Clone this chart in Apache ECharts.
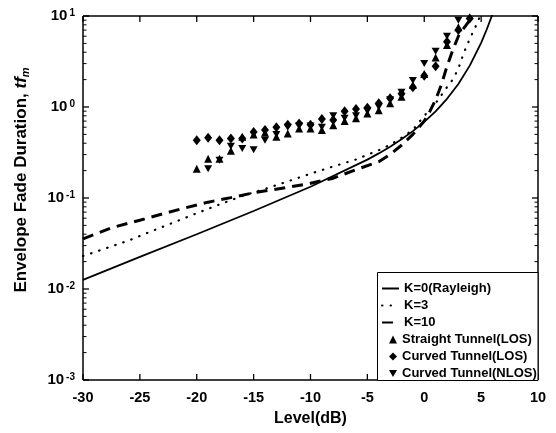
<!DOCTYPE html>
<html><head><meta charset="utf-8">
<script src="https://cdn.jsdelivr.net/npm/echarts@6/dist/echarts.min.js"></script>
<style>html,body{margin:0;padding:0;background:#fff}#c{width:556px;height:433px}</style>
</head><body><div id="c"></div>
<script>
// ---- data ----
const levelsK0 = [-30, -25, -20, -15, -10, -5, -4, -3, -2, -1, 0, 1, 2, 3, 4, 5, 5.5, 6];
const valuesK0 = [0.0126, 0.0225, 0.040, 0.072, 0.133, 0.264, 0.309, 0.366, 0.442, 0.543, 0.686, 0.897, 1.23, 1.79, 2.85, 5.07, 7.15, 10.5];

const levelsK3 = [-30, -28, -26, -24, -22, -20, -18, -16, -14, -12, -10, -8, -6, -4, -3, -2, -1, 0, 1, 2, 2.5, 3, 3.5, 4, 4.5, 5];
const valuesK3 = [0.023, 0.028, 0.034, 0.043, 0.054, 0.068, 0.085, 0.105, 0.126, 0.152, 0.185, 0.222, 0.265, 0.335, 0.385, 0.46, 0.56, 0.80, 1.1, 1.65, 2.0, 2.65, 4.0, 5.6, 7.6, 10.6];

const levelsK10 = [-30, -27.5, -25, -23, -21, -19, -17, -15, -12, -10, -8, -6, -4, -3, -2, -1, 0, 0.5, 1, 1.5, 2, 2.5, 3, 3.5, 4, 4.3];
const valuesK10 = [0.0355, 0.047, 0.057, 0.067, 0.078, 0.09, 0.101, 0.114, 0.131, 0.145, 0.165, 0.205, 0.25, 0.30, 0.38, 0.5, 0.70, 0.9, 1.2, 1.75, 2.8, 4.2, 6.0, 7.4, 9.0, 10.2];

const levelsStraightLOS = [-20, -19, -18, -17, -16, -15, -14, -13, -12, -11, -10, -9, -8, -7, -6, -5, -4, -3, -2, -1, 0, 1, 2, 3];
const valuesStraightLOS = [0.21, 0.27, 0.27, 0.33, 0.47, 0.50, 0.52, 0.47, 0.51, 0.58, 0.58, 0.56, 0.63, 0.70, 0.75, 0.85, 0.92, 1.10, 1.30, 1.75, 2.3, 3.5, 4.8, 7.5];

const levelsCurvedLOS = [-20, -19, -18, -17, -16, -15, -14, -13, -12, -11, -10, -9, -8, -7, -6, -5, -4, -3, -2, -1, 0, 1, 2, 3, 4];
const valuesCurvedLOS = [0.43, 0.46, 0.43, 0.45, 0.45, 0.53, 0.56, 0.60, 0.64, 0.66, 0.64, 0.74, 0.72, 0.90, 0.95, 0.98, 1.10, 1.25, 1.40, 1.65, 2.2, 2.8, 5.2, 7.0, 9.4];

const levelsCurvedNLOS = [-19, -18, -17, -16, -15, -14, -13, -12, -11, -10, -9, -8, -7, -6, -5, -4, -3, -2, -1, 0, 1, 2, 3];
const valuesCurvedNLOS = [0.21, 0.26, 0.37, 0.35, 0.34, 0.43, 0.50, 0.60, 0.62, 0.62, 0.60, 0.80, 0.75, 0.80, 0.90, 1.0, 1.2, 1.45, 1.95, 3.0, 4.1, 6.0, 9.0];

const lineNames = ['K=0(Rayleigh)', 'K=3', 'K=10'];
const pointNames = ['Straight Tunnel(LOS)', 'Curved Tunnel(LOS)', 'Curved Tunnel(NLOS)'];
const xTicks = {min: -30, max: 10, interval: 5};
const yTicks = {min: 0.001, max: 10};
const decades = [0.001, 0.01, 0.1, 1, 10];
const minorFactors = [2, 3, 4, 5, 6, 7, 8, 9];

// ---- build ----
const zip = (xs, ys) => xs.map((x, i) => [x, ys[i]]);
const yTickItems = [];
decades.forEach(d => {
  yTickItems.push([d, 1]);
  if (d < yTicks.max) minorFactors.forEach(f => yTickItems.push([d * f, 0]));
});
const xTickItems = [];
for (let x = xTicks.min; x <= xTicks.max; x += xTicks.interval) xTickItems.push(x);

const FONT = '"Liberation Sans", Arial, sans-serif';
const downTri = 'path://M0,0 L10,0 L5,9 Z';
const CLEAR = 'rgba(0,0,0,0)';
const SOLID = [1000, 0];

const chart = echarts.init(document.getElementById('c'), null, {renderer: 'canvas'});

const mkLine = () => ({show: true, onZero: false, lineStyle: {color: '#000', width: 1.5, type: SOLID, cap: 'butt'}});
const noTick = () => ({show: false});
const mkLegendText = () => ({color: '#000', fontFamily: FONT, fontWeight: 'bold', fontSize: 13, lineHeight: 15});

chart.setOption({
  animation: false,
  backgroundColor: '#fff',
  grid: {left: 83, right: 18, top: 16, bottom: 53, containLabel: false},
  xAxis: [{
    type: 'value', min: xTicks.min, max: xTicks.max, interval: xTicks.interval,
    position: 'bottom',
    axisLine: mkLine(), axisTick: noTick(),
    axisLabel: {color: '#000', fontFamily: FONT, fontWeight: 'bold', fontSize: 14.5, margin: 10},
    splitLine: {show: false},
    name: 'Level(dB)', nameLocation: 'middle', nameGap: 31,
    nameTextStyle: {color: '#000', fontFamily: FONT, fontWeight: 'bold', fontSize: 16}
  }, {
    type: 'value', min: xTicks.min, max: xTicks.max, interval: xTicks.interval,
    position: 'top',
    axisLine: mkLine(), axisTick: noTick(),
    axisLabel: {show: false},
    splitLine: {show: false}
  }],
  yAxis: [{
    type: 'log', logBase: 10, min: yTicks.min, max: yTicks.max,
    position: 'left',
    axisLine: mkLine(), axisTick: noTick(),
    axisLabel: {
      margin: 8,
      formatter: v => '{b|10}{s|' + Math.round(Math.log10(v)) + '}',
      rich: {
        b: {fontFamily: FONT, fontWeight: 'bold', fontSize: 15, lineHeight: 15, color: '#000', verticalAlign: 'bottom'},
        s: {fontFamily: FONT, fontWeight: 'bold', fontSize: 10, lineHeight: 10, color: '#000', verticalAlign: 'top', padding: [0, 0, 6, 2]}
      }
    },
    splitLine: {show: false}
  }, {
    type: 'log', logBase: 10, min: yTicks.min, max: yTicks.max,
    position: 'right',
    axisLine: mkLine(), axisTick: noTick(),
    axisLabel: {show: false},
    splitLine: {show: false}
  }],
  legend: [{
    data: lineNames,
    orient: 'vertical', left: 381, top: 281, padding: 0, z: 10,
    itemWidth: 17, itemHeight: 8, itemGap: 2,
    textStyle: mkLegendText()
  }, {
    data: pointNames,
    orient: 'vertical', left: 389, top: 332, padding: 0, z: 10,
    itemWidth: 8, itemHeight: 8, itemGap: 2,
    textStyle: mkLegendText()
  }],
  series: [{
    name: lineNames[0], type: 'line', data: zip(levelsK0, valuesK0), showSymbol: false, symbol: 'none',
    lineStyle: {color: '#000', width: 1.8, type: SOLID}, itemStyle: {color: CLEAR}, clip: true, z: 3
  }, {
    name: lineNames[1], type: 'line', data: zip(levelsK3, valuesK3), showSymbol: false, symbol: 'none',
    lineStyle: {color: '#000', width: 2.2, type: [0.5, 8], cap: 'round'}, itemStyle: {color: CLEAR}, clip: true, z: 3
  }, {
    name: lineNames[2], type: 'line', data: zip(levelsK10, valuesK10), showSymbol: false, symbol: 'none',
    lineStyle: {color: '#000', width: 3, type: [11, 7]}, itemStyle: {color: CLEAR}, clip: true, z: 3
  }, {
    name: pointNames[0], type: 'scatter', data: zip(levelsStraightLOS, valuesStraightLOS),
    symbol: 'triangle', symbolSize: 8, itemStyle: {color: '#000', opacity: 1}, clip: true, z: 4
  }, {
    name: pointNames[1], type: 'scatter', data: zip(levelsCurvedLOS, valuesCurvedLOS),
    symbol: 'diamond', symbolSize: [8, 10], itemStyle: {color: '#000', opacity: 1}, clip: true, z: 4
  }, {
    name: pointNames[2], type: 'scatter', data: zip(levelsCurvedNLOS, valuesCurvedNLOS),
    symbol: downTri, symbolSize: [8, 7], itemStyle: {color: '#000', opacity: 1}, clip: true, z: 4
  }]
});

// ---- decorations: legend frame, rotated y title, and tick marks placed through the axes' scales ----
const finder = {xAxisIndex: 0, yAxisIndex: 0};
const elements = [{
  id: 'legendBox', type: 'rect', z: 5,
  shape: {x: 377.5, y: 272.5, width: 160.5, height: 108},
  style: {fill: '#fff', stroke: '#000', lineWidth: 1, lineDash: SOLID}
}, {
  id: 'yTitle', type: 'text', x: 21, y: 180, rotation: Math.PI / 2, z: 6,
  style: {
    text: '{a|Envelope Fade Duration, }{i|tf}{m|m}',
    align: 'center', verticalAlign: 'middle',
    rich: {
      a: {fontFamily: FONT, fontWeight: 'bold', fontSize: 17, fill: '#000', verticalAlign: 'middle'},
      i: {fontFamily: FONT, fontWeight: 'bold', fontStyle: 'italic', fontSize: 17, fill: '#000', verticalAlign: 'middle'},
      m: {fontFamily: FONT, fontWeight: 'bold', fontStyle: 'italic', fontSize: 11, fill: '#000', verticalAlign: 'top', padding: [10, 0, 0, 0]}
    }
  }
}];
yTickItems.forEach(([v, major], i) => {
  const l = chart.convertToPixel(finder, [xTicks.min, v]);
  const r = chart.convertToPixel(finder, [xTicks.max, v]);
  const len = major ? 6 : 3.5, th = major ? 1.3 : 1;
  elements.push({id: 'yl' + i, type: 'rect', z: 4, silent: true,
    shape: {x: l[0], y: l[1] - th / 2, width: len, height: th}, style: {fill: '#000'}});
  elements.push({id: 'yr' + i, type: 'rect', z: 4, silent: true,
    shape: {x: r[0] - len, y: r[1] - th / 2, width: len, height: th}, style: {fill: '#000'}});
});
xTickItems.forEach((x, i) => {
  const b = chart.convertToPixel(finder, [x, yTicks.min]);
  const t = chart.convertToPixel(finder, [x, yTicks.max]);
  elements.push({id: 'xb' + i, type: 'rect', z: 4, silent: true,
    shape: {x: b[0] - 0.65, y: b[1] - 6, width: 1.3, height: 6}, style: {fill: '#000'}});
  elements.push({id: 'xt' + i, type: 'rect', z: 4, silent: true,
    shape: {x: t[0] - 0.65, y: t[1], width: 1.3, height: 6}, style: {fill: '#000'}});
});
chart.setOption({graphic: elements});
</script>
</body></html>
